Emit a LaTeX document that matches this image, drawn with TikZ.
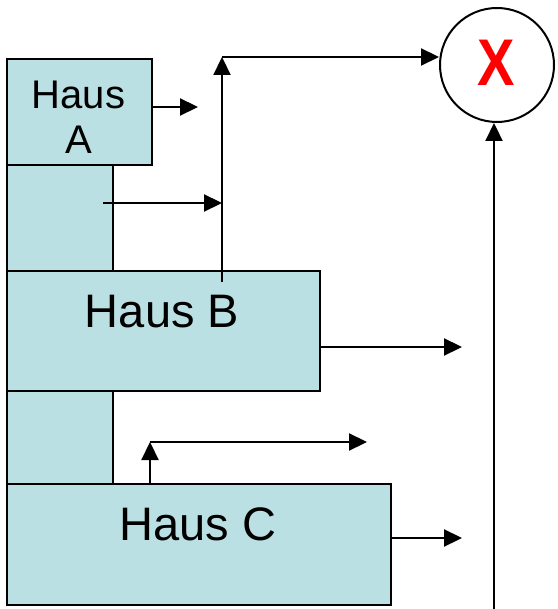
\documentclass[tikz,border=0pt]{standalone}
\usepackage{fontspec}
\setmainfont{Liberation Sans}
\usetikzlibrary{arrows.meta}
\definecolor{boxfill}{HTML}{BBE0E3}
\begin{document}
\begin{tikzpicture}[x=1pt,y=-1pt,
  haus/.style={draw=black, fill=boxfill, line width=2pt, rectangle, inner sep=0pt, anchor=north west},
  lbl/.style={anchor=base, inner sep=0pt, font=\fontsize{47}{47}\selectfont},
  arr/.style={-{Triangle[length=18pt,width=17pt]}, line width=2.2pt}]
\useasboundingbox (0,0) rectangle (557,609);
% stems
\node[haus, minimum width=106pt, minimum height=106pt] (stemAB) at (6,164) {};
\node[haus, minimum width=106pt, minimum height=93pt] (stemBC) at (6,390) {};
% boxes
\node[haus, minimum width=145pt, minimum height=106pt] (A) at (6,58) {};
\node[haus, minimum width=313pt, minimum height=120pt] (B) at (6,270) {};
\node[haus, minimum width=384pt, minimum height=121pt] (C) at (6,483) {};
% labels
\node[lbl, font=\fontsize{40}{40}\selectfont] (tA1) at (78.5,109) {Haus};
\node[lbl, font=\fontsize{40}{40}\selectfont] (tA2) at (78.5,154) {A};
\node[lbl] (tB) at (162,327) {Haus B};
\node[lbl] (tC) at (198,540) {Haus C};
% circle
\node[draw, circle, line width=2pt, minimum size=114pt, inner sep=0pt] (X) at (497,65) {};
\node[text=red, inner sep=0pt, font=\bfseries\fontsize{66}{66}\selectfont, xscale=0.85] (xl) at (496,63) {X};
% connectors
\coordinate (a1) at (198,107);
\draw[arr] (A.east |- a1) -- (a1);
\coordinate (s1) at (103,203);
\coordinate (j1) at (222,203);
\draw[arr] (s1) -- (j1);
\coordinate (bB) at (222,282);
\coordinate (tp) at (222,57);
\draw[arr] (bB) -- (tp);
\draw[arr] (tp) -- (X.west |- tp);
\coordinate (b1) at (462,347);
\draw[arr] (B.east |- b1) -- (b1);
\coordinate (c0) at (150,483);
\coordinate (c1) at (150,442);
\coordinate (c2) at (367,442);
\draw[arr] (c0) -- (c1);
\draw[arr] (c1) -- (c2);
\coordinate (c3) at (462,538);
\draw[arr] (C.east |- c3) -- (c3);
\coordinate (v0) at (494,609);
\draw[arr] (v0) -- (X.south -| v0);
\end{tikzpicture}
\end{document}
